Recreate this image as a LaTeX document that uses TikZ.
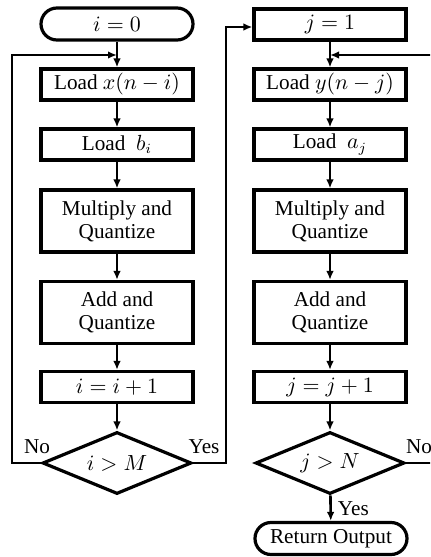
\documentclass[tikz,border=0pt]{standalone}
\usepackage{fontspec}
\setmainfont{Liberation Serif}
\usetikzlibrary{shapes.geometric,arrows.meta}

\begin{document}
\begin{tikzpicture}[x=.5pt,y=-.5pt,
    font=\fontsize{10.6}{11.5}\selectfont,
    stepbox/.style={draw, line width=1.6pt, minimum width=76pt, minimum height=15.5pt, inner sep=1pt, align=center},
    tallbox/.style={stepbox, minimum height=31pt},
    termbox/.style={stepbox, rounded corners=8pt, minimum height=16pt},
    testbox/.style={draw, line width=1.6pt, diamond, aspect=2.4, minimum width=74.5pt, minimum height=31pt, inner sep=0pt},
    flow/.style={line width=1.3pt, -{Latex[length=4.5pt,width=3.8pt]}},
    wire/.style={line width=1.3pt}]
            \clip (0, 0) rectangle (430, 557);
            % left column
            \node[termbox] (i0) at (117, 24) {$i=0$};
            \node[stepbox] (ldx) at (117, 84.5) {Load $x(n-i)$};
            \node[stepbox] (ldb) at (117, 144.5) {Load~~$b_i$};
            \node[tallbox] (mulL) at (117, 221) {Multiply and\\Quantize};
            \node[tallbox] (addL) at (117, 312.5) {Add and\\Quantize};
            \node[stepbox] (incI) at (117, 387) {$i=i+1$};
            \node[testbox] (testI) at (117, 463) {$i>M$};
            % right column
            \node[stepbox] (j1) at (330, 24.5) {$j=1$};
            \node[stepbox] (ldy) at (330, 84.5) {Load $y(n-j)$};
            \node[stepbox] (lda) at (330, 144.5) {Load~~$a_j$};
            \node[tallbox] (mulR) at (330, 221) {Multiply and\\Quantize};
            \node[tallbox] (addR) at (330, 312.5) {Add and\\Quantize};
            \node[stepbox] (incJ) at (330, 387) {$j=j+1$};
            \node[testbox] (testJ) at (330, 463) {$j>N$};
            \node[termbox] (ret) at (331, 538.5) {Return Output};
            % merge points of the loops
            \coordinate (mergeI) at (117, 55);
            \coordinate (mergeJ) at (330, 55);
            % straight flow
            \draw[flow] (i0) -- (ldx);
            \draw[flow] (ldx) -- (ldb);
            \draw[flow] (ldb) -- (mulL);
            \draw[flow] (mulL) -- (addL);
            \draw[flow] (addL) -- (incI);
            \draw[flow] (incI) -- (testI);
            \draw[flow] (j1) -- (ldy);
            \draw[flow] (ldy) -- (lda);
            \draw[flow] (lda) -- (mulR);
            \draw[flow] (mulR) -- (addR);
            \draw[flow] (addR) -- (incJ);
            \draw[flow] (incJ) -- (testJ);
            \draw[flow] (testJ) -- node[right, inner sep=3pt] {Yes} (ret);
            % loops
            \draw[flow] (testI.west) -- (12, 463) -- (12, 55) -- (mergeI);
            \draw[flow] (testI.east) -- (226, 463) -- (226, 27) -- (j1.west |- 0, 27);
            \draw[flow] (testJ.east) -- (440, 463) -- (440, 55) -- (mergeJ);
            % branch labels
            \node (noI) at (37, 447) {No};
            \node (yesI) at (204, 447) {Yes};
            \node (noJ) at (419, 447) {No};
        \end{tikzpicture}
\end{document}
